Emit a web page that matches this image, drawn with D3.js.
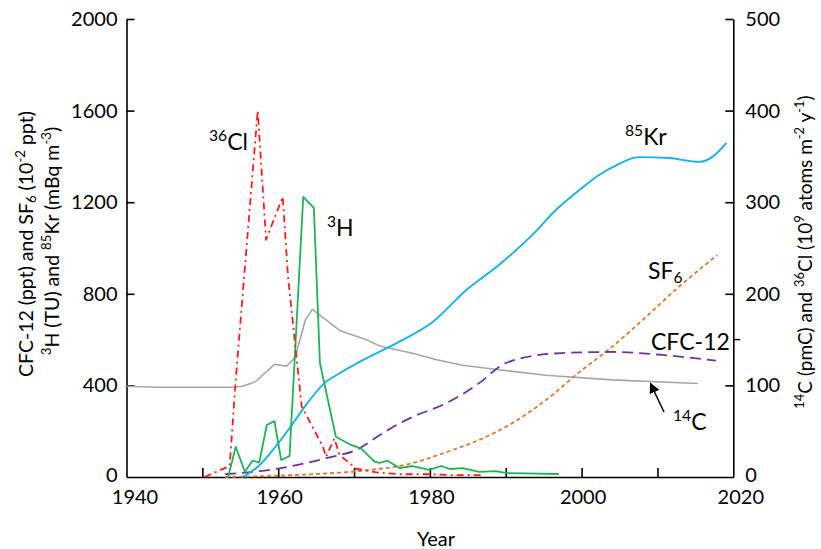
<!DOCTYPE html>
<html>
<head>
<meta charset="utf-8">
<script src="https://cdnjs.cloudflare.com/ajax/libs/d3/7.8.5/d3.min.js"></script>
<style>
body { margin: 0; background: #fff; }
text { font-family: Lato, "Open Sans", sans-serif; fill: #000; }
</style>
</head>
<body>
<div id="chart"></div>
<script>
// axis ticks
var xTicks = [1940, 1950, 1960, 1970, 1980, 1990, 2000, 2010, 2020]
var leftTicks = [0, 400, 800, 1200, 1600, 2000]
var rightTicks = [0, 100, 200, 300, 400, 500]

// left axis series: [year, value]
var tritium = [[1953.4,0],[1954.4,132],[1955.6,23],[1956.6,71],[1957.5,64],[1958.5,227],[1959.5,244],[1960.4,74],[1961.5,92],
    [1963.3,1223],[1964.7,1175],[1965.5,498],[1967.6,176],[1969.6,140],[1970.9,125],[1972.7,67],[1973.4,62],[1974.4,71],
    [1976.0,39],[1977.7,48],[1979.9,31],[1981.5,48],[1982.6,35],[1984.3,39],[1986.5,22],[1988.7,26],[1990.1,17],[1997.0,13]]
var krypton = [[1955.3,0],[1957.5,50],[1959.3,118],[1961.5,213],[1963.6,312],[1966.1,410],[1968.1,453],[1971.6,518],[1974.7,569],
    [1976.1,593],[1980.4,678],[1984.8,817],[1989.1,926],[1993.5,1057],[1996.6,1166],[1999.7,1253],[2002.3,1319],[2004.5,1360],
    [2007.5,1397],[2011.5,1393],[2015.5,1376],[2017.2,1397],[2019.1,1459]]
var cfc12 = [[1953.0,12],[1960.2,38],[1963.8,62],[1966.3,82],[1970.7,125],[1973.4,183],[1976.0,234],[1977.7,262],[1982.2,323],
    [1986.5,410],[1989.5,489],[1992.2,520],[1997.4,541],[2004.0,546],[2010.6,533],[2017.7,508]]
var sf6 = [[1953.0,0],[1960.0,6],[1965.0,13],[1970.0,24],[1973.4,36],[1976.0,48],[1977.7,61],[1982.2,109],[1986.5,162],
    [1990.9,236],[1995.3,336],[1999.7,458],[2004.0,568],[2008.5,699],[2012.8,830],[2017.9,969]]

// right axis series
var carbon14 = [[1940,99],[1944,98],[1950,98],[1954.0,98],[1955.3,99],[1957.0,104],[1959.5,123],[1961.1,121],[1962.2,130],
    [1963.6,172],[1964.5,183],[1966.4,171],[1968.1,160],[1969.8,155],[1971.6,150],[1973.4,143],[1977.7,135],[1980.9,128],
    [1984.3,122],[1989.1,117],[1995.3,111],[2004.0,106],[2015.3,102]]
var chlorine36 = [[1950.3,0],[1953.6,12],[1954.4,106],[1957.3,400],[1958.4,259],[1960.6,306],[1961.3,218],[1963.1,77],
    [1965.9,33],[1966.3,22],[1967.4,42],[1968.1,24],[1970.3,9],[1973,5],[1976,3],[1980,3],[1983,2],[1987,2]]

var width = 821, height = 549
var x0 = 126.5, x1 = 733.3, yTop = 19, yBot = 477

var svg = d3.select("#chart").append("svg")
    .attr("width", width).attr("height", height)

var x = d3.scaleLinear().domain([1940, 2020]).range([x0, x1])
var yL = d3.scaleLinear().domain([0, 2000]).range([yBot, yTop])
var yR = d3.scaleLinear().domain([0, 500]).range([yBot, yTop])

// axes
var axL = svg.append("g").attr("transform", `translate(${x0},0)`)
    .call(d3.axisLeft(yL).tickValues(leftTicks).tickSizeInner(-8).tickSizeOuter(0).tickPadding(9).tickFormat(d3.format("d")))
var axR = svg.append("g").attr("transform", `translate(${x1},0)`)
    .call(d3.axisRight(yR).tickValues(rightTicks).tickSizeInner(-8).tickSizeOuter(0).tickPadding(12).tickFormat(d3.format("d")))
var axB = svg.append("g").attr("transform", `translate(0,${yBot})`)
    .call(d3.axisBottom(x).tickValues(xTicks).tickSizeInner(-9).tickSizeOuter(0).tickPadding(13)
        .tickFormat(d => d % 20 === 0 ? d : ""))

;[axL, axR, axB].forEach(a => {
    a.select(".domain").attr("stroke", "#000").attr("stroke-width", 1.6)
    a.selectAll(".tick line").attr("stroke", "#000").attr("stroke-width", 1.6)
    a.selectAll(".tick text").style("font-size", "20px").style("font-family", "Lato, sans-serif")
})
// end labels sit a little inward of their ticks in the original
axB.selectAll(".tick text").attr("dx", d => d === 1940 ? 8 : d === 2020 ? 7 : 1)
axL.selectAll(".tick text").filter(d => d === 0).attr("dy", "0.2em")
axR.selectAll(".tick text").filter(d => d === 0).attr("dy", "0.2em")
axL.selectAll(".tick").filter(d => d === 0).select("line").remove()
axR.selectAll(".tick").filter(d => d === 0).select("line").remove()
axB.selectAll(".tick").filter(d => d === 1940 || d === 2020).select("line").remove()

// small stray tick on right axis
svg.append("line")
    .attr("x1", x1 + 1).attr("x2", x1 + 7)
    .attr("y1", yR(150)).attr("y2", yR(150))
    .attr("stroke", "#000").attr("stroke-width", 1.4)

function drawLine(data, y, color, dash, curve, w) {
    var line = d3.line().x(d => x(d[0])).y(d => y(d[1])).curve(curve)
    svg.append("path").datum(data)
        .attr("d", line)
        .attr("fill", "none")
        .attr("stroke", color)
        .attr("stroke-width", w)
        .attr("stroke-dasharray", dash)
        .attr("stroke-linejoin", "round")
}

drawLine(carbon14, yR, "#a6a6a6", null, d3.curveLinear, 1.6)
drawLine(sf6, yL, "#e2762f", "4,3", d3.curveMonotoneX, 1.8)
drawLine(cfc12, yL, "#7030a0", "11,6", d3.curveMonotoneX, 1.8)
drawLine(krypton, yL, "#17b2ea", null, d3.curveMonotoneX, 1.9)
drawLine(tritium, yL, "#1db454", null, d3.curveLinear, 1.8)
drawLine(chlorine36, yR, "#ff1a1a", "7,4,2,4", d3.curveLinear, 1.8)

// labels with super/subscripts: parts [text, mode]
function richText(g, parts, size) {
    parts.forEach(p => {
        var t = g.append("tspan").text(p[0])
        if (p[1] === "sup") t.attr("baseline-shift", "super").style("font-size", (size * 0.68) + "px")
        else if (p[1] === "sub") t.attr("baseline-shift", "-25%").style("font-size", (size * 0.68) + "px")
        else t.style("font-size", size + "px")
    })
}
function seriesLabel(px, py, parts) {
    var t = svg.append("text").attr("x", px).attr("y", py)
    richText(t, parts, 23)
}
seriesLabel(209, 150, [["36", "sup"], ["Cl"]])
seriesLabel(327, 236, [["3", "sup"], ["H"]])
seriesLabel(625, 145, [["85", "sup"], ["Kr"]])
seriesLabel(648, 279, [["SF"], ["6", "sub"]])
seriesLabel(651, 350, [["CFC-12"]])
seriesLabel(673, 430, [["14", "sup"], ["C"]])

// arrow to 14C
svg.append("defs").append("marker")
    .attr("id", "arr").attr("viewBox", "0 0 10 10").attr("refX", 9).attr("refY", 5)
    .attr("markerWidth", 7).attr("markerHeight", 7).attr("orient", "auto")
    .append("path").attr("d", "M0,0 L10,5 L0,10 z").attr("fill", "#000")
svg.append("line")
    .attr("x1", 664).attr("y1", 412).attr("x2", x(2004.2) + 37).attr("y2", yR(101) - 1)
    .attr("stroke", "#000").attr("stroke-width", 1.5).attr("marker-end", "url(#arr)")

// axis titles
var t1 = svg.append("text").attr("text-anchor", "middle")
    .attr("transform", "translate(33,244) rotate(-90)")
richText(t1, [["CFC-12 (ppt) and SF"], ["6", "sub"], [" (10"], ["-2", "sup"], [" ppt)"]], 19.5)
var t2 = svg.append("text").attr("text-anchor", "middle")
    .attr("transform", "translate(59,241) rotate(-90)")
richText(t2, [["3", "sup"], ["H (TU) and "], ["85", "sup"], ["Kr (mBq m"], ["-3", "sup"], [")"]], 19.5)
var t3 = svg.append("text").attr("text-anchor", "middle")
    .attr("transform", "translate(812,252) rotate(-90)")
richText(t3, [["14", "sup"], ["C (pmC) and "], ["36", "sup"], ["Cl (10"], ["9", "sup"], [" atoms m"], ["-2", "sup"], [" y"], ["-1", "sup"], [")"]], 19)

svg.append("text").attr("x", 436).attr("y", 546).attr("text-anchor", "middle")
    .style("font-size", "20px").text("Year")
</script>
</body>
</html>
